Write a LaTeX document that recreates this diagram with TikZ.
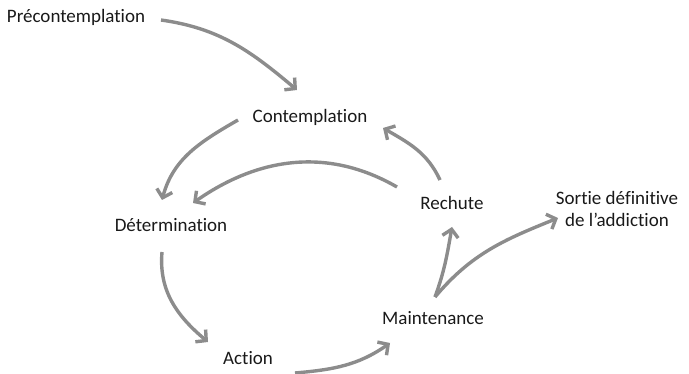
\documentclass[tikz,border=0pt]{standalone}
\usepackage{fontspec}
\setmainfont{Carlito}[Ligatures={NoCommon}]
\usetikzlibrary{arrows.meta}
\definecolor{flechegris}{RGB}{140,140,140}
\tikzset{
  etape/.style={inner sep=0pt, font=\fontsize{19}{22}\selectfont, text=black!90},
  fleche/.style={draw=flechegris, line width=3.4pt, -{Straight Barb[length=7.5pt,width=16pt]}}
}
\begin{document}
\begin{tikzpicture}[x=1pt,y=1pt]
\useasboundingbox (0,0) rectangle (689,-374);
%% les etapes
\node[etape] (pre) at (76,-17) {Précontemplation};
\node[etape] (con) at (310,-117) {Contemplation};
\node[etape] (det) at (171,-225) {Détermination};
\node[etape] (rec) at (452,-203) {Rechute};
\node[etape, align=center] (sor) at (617,-209) {Sortie définitive\\de l’addiction};
\node[etape] (mai) at (433,-318) {Maintenance};
\node[etape] (act) at (248,-358) {Action};
%% les fleches
\draw[fleche] ([shift={(85,-3)}]pre.center) to[out=-8,in=140] ([shift={(-13,27)}]con.center);
\draw[fleche] ([shift={(-72,-3)}]con.center) to[out=-150,in=75] ([shift={(-9,25)}]det.center);
\draw[fleche] ([shift={(-55,16)}]rec.center) to[out=150,in=35] ([shift={(22,22)}]det.center);
\draw[fleche] ([shift={(-12,23)}]rec.center) to[out=115,in=-30] ([shift={(73,-11)}]con.center);
\draw[fleche] ([shift={(-9,-27)}]det.center) to[out=-95,in=140] ([shift={(-40,16)}]act.center);
\draw[fleche] ([shift={(47,-15)}]act.center) to[out=5,in=-145] ([shift={(-43,-25)}]mai.center);
\draw[fleche] ([shift={(2,21)}]mai.center) to[out=70,in=-100] ([shift={(0,-24)}]rec.center);
\draw[fleche] ([shift={(2,21)}]mai.center) to[out=50,in=-158] ([shift={(-59,-9)}]sor.center);
\end{tikzpicture}
\end{document}
